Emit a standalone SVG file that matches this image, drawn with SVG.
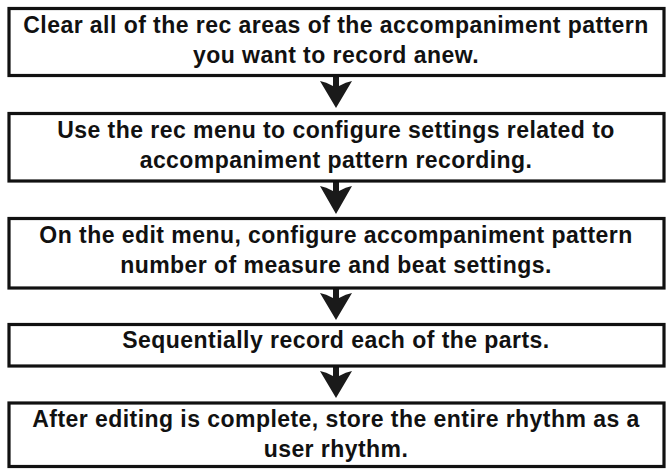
<svg xmlns="http://www.w3.org/2000/svg" width="668" height="470" viewBox="0 0 668 470">
<style>
.box{fill:#fff;stroke:#111;stroke-width:3.2}
.t{font-family:"Liberation Sans",Arial,Helvetica,sans-serif;font-weight:bold;font-size:23px;letter-spacing:0.45px;fill:#111;text-anchor:middle}
.arr{fill:#1a1a1a;stroke:none}
</style>
<rect width="668" height="470" fill="#fff"/>
<g id="connectors">
<path class="arr" d="M333,76 V86 Q326,82 320,81 L336,108 L352,81 Q346,82 339,86 V76 Z"/>
<path class="arr" d="M333,181 V191 Q326,187 320,186 L336,214 L352,186 Q346,187 339,191 V181 Z"/>
<path class="arr" d="M333,288 V298 Q326,294 320,293 L336,320 L352,293 Q346,294 339,298 V288 Z"/>
<path class="arr" d="M333,366 V376 Q326,372 320,371 L336,398 L352,371 Q346,372 339,376 V366 Z"/>
</g>
<g id="step1">
<rect class="box" x="9" y="8.5" width="655" height="67"/>
<text class="t" x="336" y="33">Clear all of the rec areas of the accompaniment pattern</text>
<text class="t" x="336" y="63">you want to record anew.</text>
</g>
<g id="step2">
<rect class="box" x="9" y="113.5" width="655" height="67.5"/>
<text class="t" x="336" y="138">Use the rec menu to configure settings related to</text>
<text class="t" x="336" y="168">accompaniment pattern recording.</text>
</g>
<g id="step3">
<rect class="box" x="9" y="218.5" width="655" height="69.5"/>
<text class="t" x="336" y="243">On the edit menu, configure accompaniment pattern</text>
<text class="t" x="336" y="273">number of measure and beat settings.</text>
</g>
<g id="step4">
<rect class="box" x="9" y="324.5" width="655" height="41.5"/>
<text class="t" x="336" y="348">Sequentially record each of the parts.</text>
</g>
<g id="step5">
<rect class="box" x="9" y="403" width="655" height="63.5"/>
<text class="t" x="336" y="427">After editing is complete, store the entire rhythm as a</text>
<text class="t" x="336" y="457">user rhythm.</text>
</g>
</svg>
